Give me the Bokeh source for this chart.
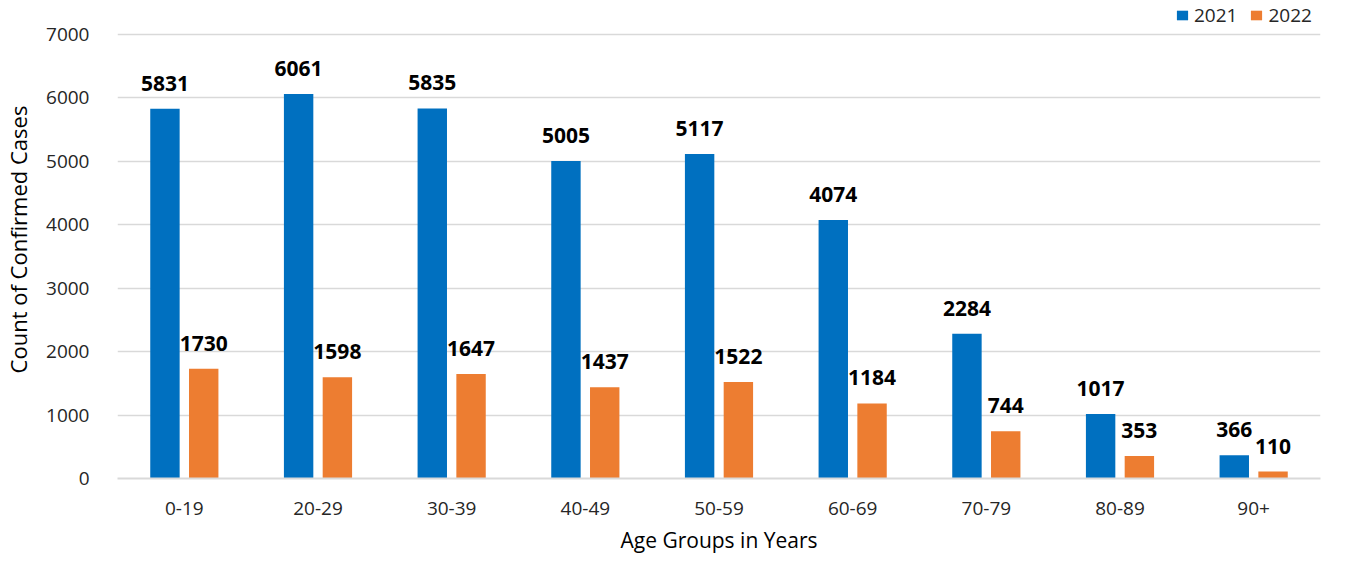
from bokeh.plotting import figure
from bokeh.models import ColumnDataSource, FactorRange, Range1d, FixedTicker, Legend, LegendItem, LabelSet
from bokeh.transform import dodge
from bokeh.core.properties import value
from bokeh.embed import file_html
from bokeh.resources import INLINE

categories = ["0-19", "20-29", "30-39", "40-49", "50-59", "60-69", "70-79", "80-89", "90+"]
cases_2021 = [5831, 6061, 5835, 5005, 5117, 4074, 2284, 1017, 366]
cases_2022 = [1730, 1598, 1647, 1437, 1522, 1184, 744, 353, 110]
series_names = ["2021", "2022"]
y_ticks = [0, 1000, 2000, 3000, 4000, 5000, 6000, 7000]

FONT = "Open Sans"
BLUE = "#0070C0"
ORANGE = "#ED7D31"
GRID = "#d9d9d9"

source = ColumnDataSource(dict(
    cat=categories,
    v21=cases_2021,
    v22=cases_2022,
    t21=[str(v) for v in cases_2021],
    t22=[str(v) for v in cases_2022],
))

p = figure(
    width=1340, height=561,
    x_range=FactorRange(*categories, range_padding=0),
    y_range=Range1d(0, 7536),
    output_backend="svg", toolbar_location=None,
    min_border_left=113, min_border_right=20, min_border_top=0, min_border_bottom=83,
)
p.outline_line_color = None
p.background_fill_color = "white"
p.border_fill_color = "white"

r21 = p.vbar(x=dodge("cat", -0.145, range=p.x_range), top="v21", width=0.22,
             source=source, fill_color=BLUE, line_color=None)
r22 = p.vbar(x=dodge("cat", 0.145, range=p.x_range), top="v22", width=0.22,
             source=source, fill_color=ORANGE, line_color=None)

for col, txt, off in [("v21", "t21", -0.145), ("v22", "t22", 0.145)]:
    labels = LabelSet(x=dodge("cat", off, range=p.x_range), y=col, text=txt, source=source,
                      text_align="center", text_baseline="alphabetic", y_offset=18,
                      text_font=value(FONT), text_font_style="bold", text_font_size="21px",
                      text_color="#000000")
    p.add_layout(labels)

p.yaxis.ticker = FixedTicker(ticks=y_ticks)
p.ygrid.ticker = FixedTicker(ticks=y_ticks[1:])
p.ygrid.grid_line_color = GRID
p.ygrid.grid_line_width = 1.5
p.xgrid.grid_line_color = None

p.yaxis.axis_line_color = None
p.yaxis.major_tick_line_color = None
p.yaxis.minor_tick_line_color = None
p.yaxis.major_label_standoff = 22
p.yaxis.major_label_text_font = FONT
p.yaxis.major_label_text_font_size = "19px"
p.yaxis.major_label_text_color = "#262626"
p.yaxis.axis_label = "Count of Confirmed Cases"
p.yaxis.axis_label_text_font = FONT
p.yaxis.axis_label_text_font_size = "22px"
p.yaxis.axis_label_text_font_style = "normal"
p.yaxis.axis_label_text_color = "#000000"
p.yaxis.axis_label_standoff = 10

p.xaxis.axis_line_color = GRID
p.xaxis.axis_line_width = 2
p.xaxis.major_tick_line_color = None
p.xaxis.minor_tick_line_color = None
p.xaxis.major_label_standoff = 17
p.xaxis.major_label_text_font = FONT
p.xaxis.major_label_text_font_size = "19px"
p.xaxis.major_label_text_color = "#262626"
p.xaxis.axis_label = "Age Groups in Years"
p.xaxis.axis_label_text_font = FONT
p.xaxis.axis_label_text_font_size = "21px"
p.xaxis.axis_label_text_font_style = "normal"
p.xaxis.axis_label_text_color = "#000000"
p.xaxis.axis_label_standoff = 8

legend = Legend(
    items=[LegendItem(label=series_names[0], renderers=[r21]),
           LegendItem(label=series_names[1], renderers=[r22])],
    orientation="horizontal", location=(1058, 450),
    glyph_width=14, glyph_height=12, label_standoff=5, spacing=12,
    padding=0, margin=0, border_line_color=None, background_fill_alpha=0,
    label_text_font=FONT, label_text_font_size="19px", label_text_color="#262626",
)
p.add_layout(legend)

open("out.html", "w").write(file_html(p, INLINE))
